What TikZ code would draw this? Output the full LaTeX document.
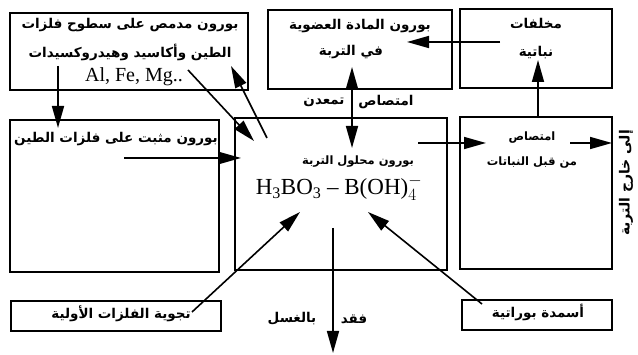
\documentclass[tikz,border=0pt]{standalone}
\usepackage{fontspec}
\setmainfont{Liberation Serif}
\newfontfamily\arabicfont[Script=Arabic]{DejaVu Sans}
\TeXXeTstate=1
\usetikzlibrary{arrows.meta}
\tikzset{
  box/.style={draw, line width=1.3pt, inner sep=0pt},
  ar/.style={font=\arabicfont\bfseries\fontsize{13.5}{15}\selectfont, inner sep=0pt},
  arsmall/.style={font=\arabicfont\bfseries\fontsize{11.5}{13}\selectfont, inner sep=0pt},
  lat/.style={font=\fontsize{20}{22}\selectfont, inner sep=0pt},
  conn/.style={line width=1.6pt, -{Triangle[length=22pt,width=12pt]}},
  conn2/.style={line width=1.6pt, {Triangle[length=22pt,width=12pt]}-{Triangle[length=22pt,width=12pt]}},
}
\begin{document}
\begin{tikzpicture}[x=1pt,y=-1pt]
\useasboundingbox (0,0) rectangle (638,355);
% boxes
\node[box, minimum width=238, minimum height=77] (A) at (129,51.5) {};
\node[box, minimum width=184, minimum height=79] (B) at (360,49.5) {};
\node[box, minimum width=152, minimum height=79] (C) at (536,48.5) {};
\node[box, minimum width=209, minimum height=152] (D) at (114.5,196) {};
\node[box, minimum width=212, minimum height=152] (E) at (341,194) {};
\node[box, minimum width=152, minimum height=152] (F) at (536,193) {};
\node[box, minimum width=210, minimum height=30] (G) at (116,316) {};
\node[box, minimum width=150, minimum height=30] (H) at (537,315) {};
% texts
\node[ar] (tA1) at (130,25) {\beginR بورون مدمص على سطوح فلزات\endR};
\node[ar] (tA2) at (130,52) {\beginR الطين وأكاسيد وهيدروكسيدات\endR};
\node[lat] (tA3) at (134,77) {Al, Fe, Mg..};
\node[ar] (tB1) at (360,26) {\beginR بورون المادة العضوية\endR};
\node[ar] (tB2) at (351,52) {\beginR في التربة\endR};
\node[ar] (tC1) at (536,24) {\beginR مخلفات\endR};
\node[ar] (tC2) at (536,53) {\beginR نباتية\endR};
\node[ar] (tD) at (116,139) {\beginR بورون مثبت على فلزات الطين\endR};
\node[arsmall] (tE1) at (358,162) {\beginR بورون محلول التربة\endR};
\node[font=\fontsize{23}{25}\selectfont, inner sep=0pt] (tE2) at (339,188) {H\textsubscript{3}BO\textsubscript{3} -- B(OH)$^{-}_{4}$};
\node[arsmall] (tF1) at (532,138) {\beginR امتصاص\endR};
\node[arsmall] (tF2) at (532,163) {\beginR من قبل النباتات\endR};
\node[ar] (tG) at (121,314) {\beginR تجوية الفلزات الأولية\endR};
\node[ar] (tH) at (538,312) {\beginR أسمدة بوراتية\endR};
\node[ar] (tM1) at (386,102) {\beginR امتصاص\endR};
\node[ar] (tM2) at (324,102) {\beginR تمعدن\endR};
\node[ar] (tL1) at (354,319) {\beginR فقد\endR};
\node[ar] (tL2) at (292,319) {\beginR بالغسل\endR};
\node[ar, rotate=90, font=\arabicfont\bfseries\fontsize{14}{15}\selectfont] (tOut) at (626,183) {\beginR إلى خارج التربة\endR};
% connector endpoints
\coordinate (a1s) at (58,66);   \coordinate (a1e) at (58,128);
\coordinate (a2s) at (188,70);  \coordinate (a2e) at (254,141);
\coordinate (a3s) at (267,138); \coordinate (a3e) at (231,66);
\coordinate (a4s) at (124,158); \coordinate (a4e) at (241,158);
\coordinate (a5s) at (352,67);  \coordinate (a5e) at (352,148);
\coordinate (a6s) at (500,42);  \coordinate (a6e) at (407,42);
\coordinate (a7s) at (538,117); \coordinate (a7e) at (538,60);
\coordinate (a8s) at (418,143); \coordinate (a8e) at (486,143);
\coordinate (a9s) at (570,143); \coordinate (a9e) at (612,143);
\coordinate (a10s) at (192,312); \coordinate (a10e) at (300,212);
\coordinate (a11s) at (482,304); \coordinate (a11e) at (368,212);
\coordinate (a12s) at (333,228); \coordinate (a12e) at (333,353);
\draw[conn] (a1s) -- (a1e);
\draw[conn] (a2s) -- (a2e);
\draw[conn] (a3s) -- (a3e);
\draw[conn] (a4s) -- (a4e);
\draw[conn2] (a5s) -- (a5e);
\draw[conn] (a6s) -- (a6e);
\draw[conn] (a7s) -- (a7e);
\draw[conn] (a8s) -- (a8e);
\draw[conn] (a9s) -- (a9e);
\draw[conn] (a10s) -- (a10e);
\draw[conn] (a11s) -- (a11e);
\draw[conn] (a12s) -- (a12e);
\end{tikzpicture}
\end{document}
